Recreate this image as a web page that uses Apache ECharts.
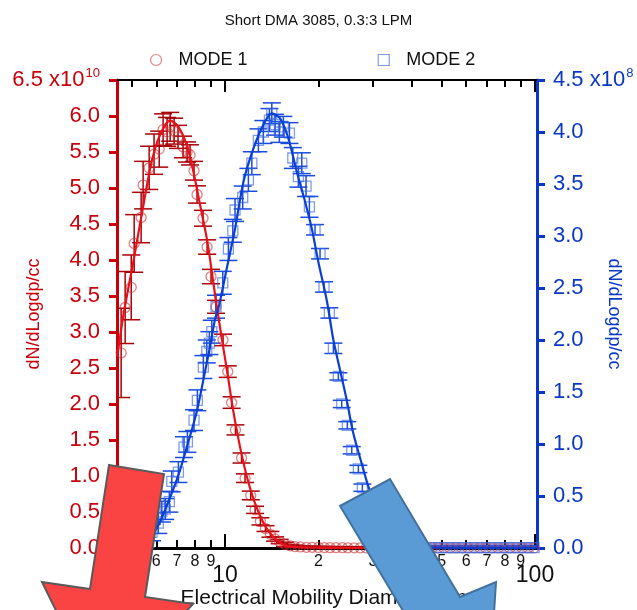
<!DOCTYPE html>
<html>
<head>
<meta charset="utf-8">
<script src="https://cdn.jsdelivr.net/npm/echarts@6/dist/echarts.min.js"></script>
<style>
  html, body { margin: 0; padding: 0; background: #fff; }
  #chart { width: 637px; height: 610px; }
</style>
</head>
<body>
<div id="chart"></div>
<script>
// Mode 1 (left axis, units of 1e10)
const mode1Diam = [4.62, 4.76, 4.98, 5.09, 5.36, 5.44, 5.69, 5.90, 6.13, 6.31, 6.50, 6.65, 6.85, 7.05, 7.32, 7.54, 7.71, 7.94, 8.12, 8.49, 8.75, 9.01, 9.35, 9.85, 10.2, 10.5, 10.8, 11.3, 11.6, 12.1, 12.5, 13.0, 13.5, 14.0, 14.5, 15.0, 15.6, 16.2, 16.8];
const mode1Val = [2.71, 3.34, 3.62, 4.23, 4.59, 5.04, 5.28, 5.47, 5.54, 5.81, 5.78, 5.85, 5.79, 5.71, 5.57, 5.50, 5.46, 5.24, 4.91, 4.58, 4.18, 3.77, 3.35, 2.89, 2.45, 2.02, 1.64, 1.25, 0.97, 0.73, 0.53, 0.37, 0.27, 0.19, 0.125, 0.09, 0.05, 0.03, 0.02];
const mode1Err = [0.62, 0.5, 0.45, 0.4, 0.35, 0.33, 0.3, 0.28, 0.25, 0.22, 0.2, 0.2, 0.18, 0.16, 0.15, 0.14, 0.14, 0.13, 0.12, 0.11, 0.1, 0.1, 0.09, 0.08, 0.08, 0.08, 0.07, 0.07, 0.06, 0.06, 0.05, 0.05, 0.04, 0.04, 0.03, 0.03, 0.03, 0.02, 0.02];
const mode1TailDiam = [17.5, 18.3, 19.1, 20, 20.9, 21.8, 22.8, 23.9, 24.9, 26.1, 27.3, 28.5, 29.8, 31.2, 32.6, 34.1, 35.6, 37.2, 38.9, 40.7, 42.6, 44.5, 46.5, 48.7, 50.9, 53.2, 55.6, 58.1, 60.8, 63.6, 66.5, 69.5, 72.7, 76, 79.4, 83, 86.8, 90.8, 94.9, 99.3];
const mode1TailVal = [0.015, 0.01, 0.01, 0.008, 0.006, 0.005, 0.004, 0.004, 0.003, 0.003, 0.002, 0.002, 0.002, 0.002, 0.002, 0.002, 0.002, 0.002, 0.002, 0.002, 0.002, 0.002, 0.002, 0.002, 0.002, 0.002, 0.002, 0.002, 0.002, 0.002, 0.002, 0.002, 0.002, 0.002, 0.002, 0.002, 0.002, 0.002, 0.002, 0.002];
const mode1FitDiam = [4.49, 4.70, 5.06, 5.45, 5.80, 6.17, 6.65, 7.07, 7.52, 7.90, 8.31, 8.73, 9.06, 9.35, 9.76, 10.2, 10.64, 11.32, 12.04, 12.81, 13.63, 14.68, 15.81, 17.5, 20, 25, 35, 60, 101];
const mode1FitVal = [2.66, 3.24, 3.98, 4.76, 5.37, 5.74, 5.94, 5.85, 5.60, 5.23, 4.76, 4.30, 3.84, 3.42, 2.91, 2.40, 1.89, 1.29, 0.83, 0.50, 0.27, 0.11, 0.03, 0.01, 0.003, 0, 0, 0, 0];

// Mode 2 (right axis, units of 1e8)
const mode2Diam = [5.32, 5.56, 5.81, 6.09, 6.25, 6.41, 6.61, 6.73, 7.07, 7.37, 7.56, 7.94, 8.14, 8.51, 8.73, 8.90, 9.06, 9.35, 9.83, 10.25, 10.59, 10.77, 11.40, 11.89, 12.20, 12.81, 13.29, 13.90, 14.15, 14.50, 14.97, 15.42, 16.13, 16.54, 17.24, 17.68, 18.25, 18.71, 19.51, 20.25, 20.86, 21.70, 22.36, 23.20, 23.79, 24.80, 25.63, 26.92, 27.73, 28.7, 30.2, 31.6, 33.0, 34.5, 36.1, 37.8, 39.5, 41.3];
const mode2Val = [0.05, 0.08, 0.15, 0.24, 0.35, 0.375, 0.445, 0.64, 0.73, 0.97, 1.02, 1.23, 1.42, 1.74, 1.89, 1.97, 2.08, 2.32, 2.55, 2.875, 3.05, 3.25, 3.37, 3.54, 3.70, 3.92, 4.00, 4.115, 4.18, 4.07, 4.00, 4.05, 3.99, 3.75, 3.57, 3.70, 3.48, 3.28, 3.06, 2.83, 2.51, 2.26, 1.92, 1.65, 1.385, 1.18, 0.94, 0.76, 0.58, 0.45, 0.32, 0.2, 0.12, 0.07, 0.04, 0.02, 0.01, 0.005];
const mode2Err = [0.06, 0.08, 0.08, 0.1, 0.1, 0.1, 0.1, 0.1, 0.1, 0.1, 0.1, 0.1, 0.1, 0.11, 0.11, 0.11, 0.11, 0.11, 0.11, 0.11, 0.11, 0.11, 0.11, 0.11, 0.11, 0.11, 0.11, 0.11, 0.1, 0.1, 0.1, 0.1, 0.1, 0.1, 0.1, 0.1, 0.1, 0.1, 0.05, 0.05, 0.05, 0.05, 0.05, 0.035, 0.035, 0.035, 0.035, 0.035, 0.035, 0.03, 0.03, 0.03, 0.03, 0.03, 0.03, 0.03, 0.03, 0.03];
const mode2TailDiam = [42.6, 44.5, 46.5, 48.7, 50.9, 53.2, 55.6, 58.1, 60.8, 63.6, 66.5, 69.5, 72.7, 76, 79.4, 83, 86.8, 90.8, 94.9, 99.3];
const mode2TailVal = [0.004, 0.003, 0.003, 0.003, 0.003, 0.003, 0.003, 0.003, 0.003, 0.003, 0.003, 0.003, 0.003, 0.003, 0.003, 0.003, 0.003, 0.003, 0.003, 0.003];
const mode2FitDiam = [4.48, 5.2, 5.6, 6.02, 6.56, 7.07, 7.61, 8.10, 8.62, 8.95, 9.28, 9.51, 10.13, 10.77, 11.46, 12.34, 13.29, 14.15, 15.05, 16.00, 17.03, 18.12, 19.05, 20.00, 21.29, 22.36, 23.50, 24.70, 25.94, 27.61, 29.00, 31, 33, 36, 40, 45, 60, 101];
const mode2FitVal = [0, 0.03, 0.09, 0.19, 0.445, 0.70, 1.02, 1.31, 1.70, 1.94, 2.20, 2.30, 2.69, 3.07, 3.52, 3.84, 4.07, 4.18, 4.13, 3.94, 3.62, 3.33, 3.07, 2.75, 2.38, 2.00, 1.71, 1.42, 1.10, 0.81, 0.59, 0.36, 0.2, 0.08, 0.02, 0.005, 0, 0];

const minorTicks = [5, 6, 7, 8, 9, 20, 30, 40, 50, 60, 70, 80, 90];
const majorTicks = [10, 100];

const RED = "#c8000a";
const BLUE = "#0a38c4";
const RED_MARK = "rgba(200,45,45,0.75)";
const BLUE_MARK = "rgba(55,100,225,0.8)";
const FONT = "Liberation Sans, Arial, sans-serif";
const X_MIN = 4.48;
const X_MAX = 101.5;

function zip(xs, ys) {
  return xs.map((x, i) => [x, ys[i]]);
}

function errData(xs, ys, es) {
  return xs.map((x, i) => [x, Math.max(0, ys[i] - es[i]), ys[i] + es[i]]);
}

function errorBarRender(color, cap) {
  return function (params, api) {
    const x = api.value(0);
    const lo = api.coord([x, api.value(1)]);
    const hi = api.coord([x, api.value(2)]);
    const style = { stroke: color, lineWidth: 1.5 };
    return {
      type: "group",
      children: [
        { type: "line", shape: { x1: lo[0], y1: lo[1], x2: hi[0], y2: hi[1] }, style },
        { type: "line", shape: { x1: lo[0] - cap, y1: lo[1], x2: lo[0] + cap, y2: lo[1] }, style },
        { type: "line", shape: { x1: hi[0] - cap, y1: hi[1], x2: hi[0] + cap, y2: hi[1] }, style },
      ],
    };
  };
}

function digitOf(value) {
  let p = Math.pow(10, Math.floor(Math.log10(value) + 1e-9));
  return String(Math.round(value / p));
}

const X_BASE = {
  type: "log",
  logBase: 10,
  min: X_MIN,
  max: X_MAX,
  splitLine: { show: false },
};

let chart = echarts.init(document.getElementById("chart"));

let option = {
  animation: false,
  textStyle: { fontFamily: FONT },
  title: {
    text: "Short DMA 3085, 0.3:3 LPM",
    left: "center",
    top: 8,
    textStyle: { fontSize: 15, fontWeight: "normal", color: "#111", fontFamily: FONT },
  },
  legend: {
    left: 145,
    top: 46,
    itemWidth: 11,
    itemHeight: 11,
    itemGap: 130,
    selectedMode: false,
    textStyle: { fontSize: 18, color: "#111", fontFamily: FONT, padding: [0, 0, 0, 12] },
    data: [
      { name: "MODE 1", icon: "circle", itemStyle: { color: "transparent", borderColor: RED_MARK, borderWidth: 1.2 } },
      { name: "MODE 2", icon: "rect", itemStyle: { color: "transparent", borderColor: BLUE_MARK, borderWidth: 1.2 } },
    ],
  },
  grid: { left: 117, right: 100, top: 80, bottom: 62, outerBoundsMode: "none" },
  xAxis: [
    {
      ...X_BASE,
      position: "bottom",
      axisLine: { show: true, lineStyle: { color: "#000", width: 3 } },
      axisTick: { show: true, inside: true, length: 8, customValues: minorTicks, lineStyle: { color: "#000", width: 2 } },
      axisLabel: {
        customValues: minorTicks,
        margin: 6,
        fontSize: 16,
        color: "#111",
        fontFamily: FONT,
        formatter: function (value) {
          return digitOf(value);
        },
      },
    },
    {
      ...X_BASE,
      position: "bottom",
      axisLine: { show: false },
      axisTick: { show: true, inside: true, length: 14, customValues: majorTicks, lineStyle: { color: "#000", width: 2 } },
      axisLabel: {
        customValues: majorTicks,
        margin: 16,
        fontSize: 23,
        color: "#111",
        fontFamily: FONT,
        formatter: function (value) {
          return String(Math.round(value));
        },
      },
      name: "Electrical Mobility Diameter, nm",
      nameLocation: "middle",
      nameGap: 40,
      nameMoveOverlap: false,
      nameTextStyle: { fontSize: 21, color: "#111", fontFamily: FONT },
    },
    {
      ...X_BASE,
      position: "top",
      axisLine: { show: true, lineStyle: { color: "#000", width: 2 } },
      axisTick: { show: true, inside: true, length: 7, customValues: minorTicks, lineStyle: { color: "#000", width: 2 } },
      axisLabel: { show: false },
    },
    {
      ...X_BASE,
      position: "top",
      axisLine: { show: false },
      axisTick: { show: true, inside: true, length: 12, customValues: majorTicks, lineStyle: { color: "#000", width: 2 } },
      axisLabel: { show: false },
    },
  ],
  yAxis: [
    {
      type: "value",
      position: "left",
      min: 0,
      max: 6.5,
      interval: 0.5,
      splitLine: { show: false },
      axisLine: { show: true, lineStyle: { color: RED, width: 3 } },
      axisTick: { show: true, length: 8, lineStyle: { color: RED, width: 3 } },
      axisLabel: {
        margin: 17,
        fontSize: 22,
        color: RED,
        fontFamily: FONT,
        formatter: function (value) {
          return value === 6.5 ? "{a|6.5 x10}{s|10}" : value.toFixed(1);
        },
        rich: {
          a: { fontSize: 22, color: RED, fontFamily: FONT },
          s: { fontSize: 13, color: RED, fontFamily: FONT, padding: [0, 0, 14, 1] },
        },
      },
      name: "dN/dLogdp/cc",
      nameLocation: "middle",
      nameGap: 74,
      nameRotate: 90,
      nameMoveOverlap: false,
      nameTextStyle: { fontSize: 18, color: RED, fontFamily: FONT },
    },
    {
      type: "value",
      position: "right",
      min: 0,
      max: 4.5,
      interval: 0.5,
      splitLine: { show: false },
      axisLine: { show: true, lineStyle: { color: BLUE, width: 3 } },
      axisTick: { show: true, length: 8, lineStyle: { color: BLUE, width: 3 } },
      axisLabel: {
        margin: 16,
        fontSize: 22,
        color: BLUE,
        fontFamily: FONT,
        formatter: function (value) {
          return value === 4.5 ? "{a|4.5 x10}{s|8}" : value.toFixed(1);
        },
        rich: {
          a: { fontSize: 22, color: BLUE, fontFamily: FONT },
          s: { fontSize: 13, color: BLUE, fontFamily: FONT, padding: [0, 0, 14, 1] },
        },
      },
      name: "dN/dLogdp/cc",
      nameLocation: "middle",
      nameGap: 68,
      nameRotate: -90,
      nameMoveOverlap: false,
      nameTextStyle: { fontSize: 18, color: BLUE, fontFamily: FONT },
    },
  ],
  series: [
    {
      name: "mode1-err",
      type: "custom",
      xAxisIndex: 0,
      yAxisIndex: 0,
      clip: true,
      z: 2,
      encode: { x: 0, y: [1, 2] },
      renderItem: errorBarRender("#a80008", 9),
      data: errData(mode1Diam.concat(mode1TailDiam), mode1Val.concat(mode1TailVal), mode1Err.concat(mode1TailDiam.map(() => 0.015))),
    },
    {
      name: "MODE 1",
      type: "scatter",
      xAxisIndex: 0,
      yAxisIndex: 0,
      symbol: "circle",
      symbolSize: 10,
      z: 3,
      itemStyle: { color: "transparent", borderColor: RED_MARK, borderWidth: 1.3 },
      data: zip(mode1Diam.concat(mode1TailDiam), mode1Val.concat(mode1TailVal)),
    },
    {
      name: "mode1-fit",
      type: "line",
      xAxisIndex: 0,
      yAxisIndex: 0,
      smooth: 0.3,
      showSymbol: false,
      z: 4,
      lineStyle: { color: "#e8101a", width: 2.2 },
      data: zip(mode1FitDiam, mode1FitVal),
    },
    {
      name: "mode2-err",
      type: "custom",
      xAxisIndex: 0,
      yAxisIndex: 1,
      clip: true,
      z: 2,
      encode: { x: 0, y: [1, 2] },
      renderItem: errorBarRender("#1a4cdc", 9),
      data: errData(mode2Diam.concat(mode2TailDiam), mode2Val.concat(mode2TailVal), mode2Err.concat(mode2TailDiam.map(() => 0.02))),
    },
    {
      name: "MODE 2",
      type: "scatter",
      xAxisIndex: 0,
      yAxisIndex: 1,
      symbol: "rect",
      symbolSize: 10,
      z: 3,
      itemStyle: { color: "transparent", borderColor: BLUE_MARK, borderWidth: 1.3 },
      data: zip(mode2Diam.concat(mode2TailDiam), mode2Val.concat(mode2TailVal)),
    },
    {
      name: "mode2-fit",
      type: "line",
      xAxisIndex: 0,
      yAxisIndex: 1,
      smooth: 0.3,
      showSymbol: false,
      z: 4,
      lineStyle: { color: "#0b3ed2", width: 2.2 },
      data: zip(mode2FitDiam, mode2FitVal),
    },
  ],
  graphic: [
    {
      type: "polygon",
      z: 100,
      shape: {
        points: [[109, 465], [164, 474], [145, 597], [193, 604], [101, 702], [42, 582], [90, 589]],
      },
      style: { fill: "#fa4444", stroke: "#5a5a5a", lineWidth: 2 },
    },
    {
      type: "polygon",
      z: 100,
      shape: {
        points: [[340, 506], [390, 479], [460, 597], [496, 582], [488, 707], [378, 642], [411, 624]],
      },
      style: { fill: "#5b9bd5", stroke: "#41719c", lineWidth: 2 },
    },
  ],
};

option && chart.setOption(option);
</script>
</body>
</html>
